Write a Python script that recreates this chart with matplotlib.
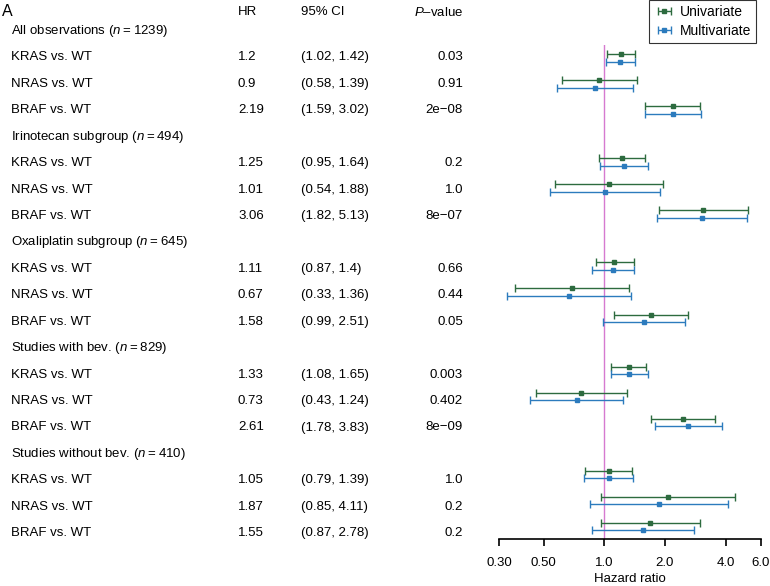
import matplotlib
matplotlib.use('Agg')
import matplotlib.pyplot as plt

# multivariate values (shown in the table) and univariate estimates
groups = ["All observations", "Irinotecan subgroup", "Oxaliplatin subgroup",
          "Studies with bev.", "Studies without bev."]
group_n = [1239, 494, 645, 829, 410]
comparisons = ["KRAS vs. WT", "NRAS vs. WT", "BRAF vs. WT"]

multi_hr = [1.2, 0.9, 2.19, 1.25, 1.01, 3.06, 1.11, 0.67, 1.58, 1.33, 0.73, 2.61, 1.05, 1.87, 1.55]
multi_lo = [1.02, 0.58, 1.59, 0.95, 0.54, 1.82, 0.87, 0.33, 0.99, 1.08, 0.43, 1.78, 0.79, 0.85, 0.87]
multi_hi = [1.42, 1.39, 3.02, 1.64, 1.88, 5.13, 1.4, 1.36, 2.51, 1.65, 1.24, 3.83, 1.39, 4.11, 2.78]
p_values = ["0.03", "0.91", "2e\u221208", "0.2", "1.0", "8e\u221207", "0.66", "0.44", "0.05",
            "0.003", "0.402", "8e\u221209", "1.0", "0.2", "0.2"]

uni_hr = [1.21, 0.94, 2.19, 1.22, 1.05, 3.10, 1.12, 0.69, 1.70, 1.32, 0.77, 2.47, 1.05, 2.07, 1.69]
uni_lo = [1.03, 0.62, 1.59, 0.94, 0.57, 1.87, 0.91, 0.36, 1.12, 1.08, 0.46, 1.71, 0.80, 0.96, 0.96]
uni_hi = [1.42, 1.46, 3.00, 1.59, 1.96, 5.15, 1.40, 1.33, 2.59, 1.61, 1.30, 3.56, 1.37, 4.46, 2.98]

ticks = [0.3, 0.5, 1.0, 2.0, 4.0, 6.0]
tick_labels = ["0.30", "0.50", "1.0", "2.0", "4.0", "6.0"]

plt.rcParams['font.family'] = ['Liberation Sans', 'DejaVu Sans']
plt.rcParams['mathtext.fontset'] = 'custom'
plt.rcParams['mathtext.it'] = 'Liberation Sans:italic'
plt.rcParams['mathtext.rm'] = 'Liberation Sans'

W, H = 770, 586
fig = plt.figure(figsize=(W / 100, H / 100), dpi=100)
ax = fig.add_axes([499 / W, 1 - 539 / H, (761 - 499) / W, (539 - 45) / H])

# plot rows: pixel = 32.2 + 26.02 * row
ax.set_ylim((539 - 32.2) / 26.02, (45 - 32.2) / 26.02)
ax.set_xscale('log')
ax.set_xlim(0.3, 6.0)

green = "#2d6b3f"
blue = "#2c7bbd"
fs = 9.5

# row index: each group header then 3 comparison rows
rows = []
for g in range(len(groups)):
    for c in range(3):
        rows.append(g * 4 + c + 1)

for i, r in enumerate(rows):
    lab = "Univariate" if i == 0 else None
    lab2 = "Multivariate" if i == 0 else None
    ax.errorbar([uni_hr[i]], [r - 0.15],
                xerr=[[uni_hr[i] - uni_lo[i]], [uni_hi[i] - uni_hr[i]]],
                fmt='s', color=green, ms=2.2, lw=1.0, capsize=3.2, capthick=1.0, label=lab)
    ax.errorbar([multi_hr[i]], [r + 0.15],
                xerr=[[multi_hr[i] - multi_lo[i]], [multi_hi[i] - multi_hr[i]]],
                fmt='s', color=blue, ms=2.2, lw=1.0, capsize=3.2, capthick=1.0, label=lab2)

ax.axvline(1.0, color="#d67ad0", lw=1.0, zorder=0)

for s in ['top', 'right', 'left']:
    ax.spines[s].set_visible(False)
ax.spines['bottom'].set_linewidth(1.2)
ax.set_yticks([])
ax.minorticks_off()
ax.set_xticks(ticks)
ax.set_xticklabels(tick_labels, fontsize=fs)
ax.tick_params(axis='x', length=5, width=1.2, pad=8)
ax.set_xlabel("Hazard ratio", fontsize=fs, labelpad=3)

# table text, rows at pixel 30.9 + 26.44 * row
def ty(r):
    return 1 - (30.9 + 26.44 * r) / H

x_lab, x_hr, x_ci, x_p = 11 / W, 238 / W, 301 / W, 463 / W
for g in range(len(groups)):
    fig.text(x_lab, ty(g * 4), groups[g] + " ($n$\u2009=\u2009" + str(group_n[g]) + ")",
             fontsize=fs, va='center', ha='left')
for i, r in enumerate(rows):
    fig.text(x_lab, ty(r), comparisons[i % 3], fontsize=fs, va='center')
    fig.text(x_hr, ty(r), f"{multi_hr[i]:g}", fontsize=fs, va='center')
    fig.text(x_ci, ty(r), f"({multi_lo[i]:g}, {multi_hi[i]:g})", fontsize=fs, va='center')
    fig.text(x_p, ty(r), p_values[i], fontsize=fs, va='center', ha='right')

ytop = 1 - 12 / H
fig.text(2 / W, ytop, "A", fontsize=11.5, va='center', ha='left')
fig.text(x_hr, ytop, "HR", fontsize=fs, va='center')
fig.text(x_ci, ytop, "95% CI", fontsize=fs, va='center')
fig.text(x_p, ytop, "$P$\u2013value", fontsize=fs, va='center', ha='right')

leg = fig.legend(loc='upper right', bbox_to_anchor=(756 / W, 1.0), fontsize=10,
                 frameon=True, fancybox=False, edgecolor='black', borderaxespad=0,
                 handlelength=1.5, handletextpad=0.35, borderpad=0.35, labelspacing=0.35)
leg.get_frame().set_linewidth(0.8)

fig.savefig("out.png", dpi=100)
